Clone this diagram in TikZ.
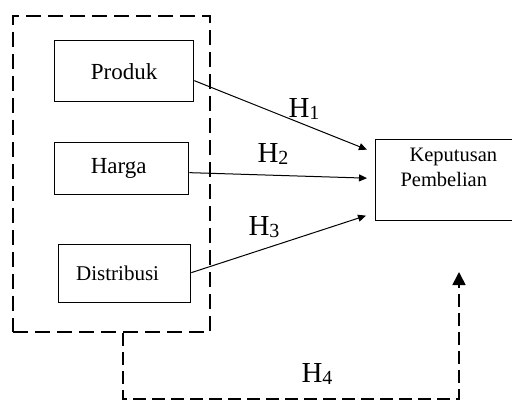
\documentclass[tikz,border=0pt]{standalone}
\usepackage{fontspec}
\setmainfont{Liberation Serif}
\usetikzlibrary{arrows.meta,positioning,calc}
\tikzset{every picture/.style={line width=1pt}}
\newcommand{\hipo}[1]{H\raisebox{-2pt}{\fontsize{20}{20}\selectfont #1}}

\begin{document}
\begin{tikzpicture}[x=1pt, y=-1pt,
    varbox/.style={draw, line width=1.3pt, inner sep=0pt, anchor=north west},
    hlabel/.style={anchor=base west, inner sep=0pt, font=\fontsize{29}{29}\selectfont},
    panah/.style={-{Triangle[length=8pt,width=7pt]}, line width=1pt},
    garis/.style={line width=2.2pt, dash pattern=on 15pt off 7pt}]
    \useasboundingbox (0,0) rectangle (512,402);

    % kotak variabel bebas
    \node[draw, garis, anchor=north west, minimum width=197pt, minimum height=316pt] (outer) at (12,15) {};
    \node[varbox, minimum width=139pt, minimum height=61pt, font=\fontsize{23}{23}\selectfont] (produk) at (54,40) {Produk};
    \node[varbox, minimum width=134pt, minimum height=52pt, font=\fontsize{23}{23}\selectfont] (harga) at (54,142) {\hspace*{-6pt}Harga};
    \node[varbox, minimum width=132pt, minimum height=58pt, font=\fontsize{21}{21}\selectfont] (distribusi) at (58,244) {\hspace*{-14pt}Distribusi};

    % variabel terikat
    \node[varbox, minimum width=150pt, minimum height=81pt] (kep) at (375,139) {};
    \node[anchor=north west, inner sep=0pt, align=left, font=\fontsize{20.5}{25}\selectfont] (kepteks) at (400,148) {\hspace*{9pt}Keputusan\\Pembelian};

    % hubungan parsial
    \draw[panah] ($(produk.east)+(0,9.5)$) -- ($(kep.west)+(-8,-30.5)$);
    \draw[panah] ($(harga.east)+(0,4)$) -- ($(kep.west)+(-8,-2)$);
    \draw[panah] ($(distribusi.east)+(0,-1)$) -- ($(kep.west)+(-9,35.5)$);
    \node[hlabel] (h1) at (288,117) {\hipo{1}};
    \node[hlabel] (h2) at (257,162) {\hipo{2}};
    \node[hlabel] (h3) at (248,235) {\hipo{3}};

    % hubungan simultan
    \coordinate (h4end) at (459,272);
    \draw[line width=1.6pt, dash pattern=on 13pt off 6pt, -{Triangle[length=13pt,width=13pt]}]
        ($(outer.south)+(11.5,0)$) -- ++(0,66) -| (h4end);
    \node[hlabel] (h4) at (301,382) {\hipo{4}};
\end{tikzpicture}
\end{document}
